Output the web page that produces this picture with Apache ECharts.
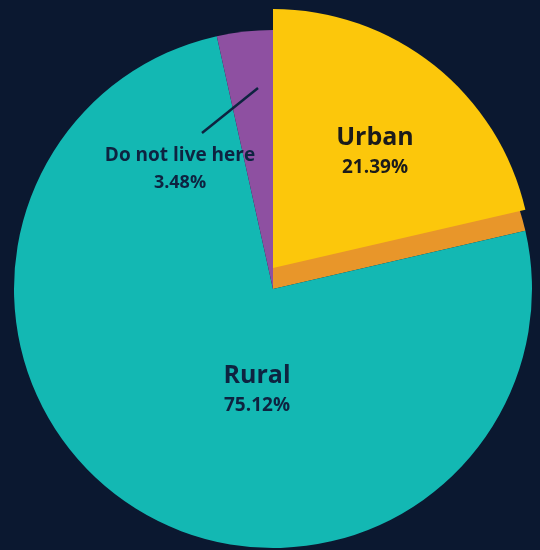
<!DOCTYPE html>
<html>
<head>
<meta charset="utf-8">
<script src="https://cdn.jsdelivr.net/npm/echarts@6/dist/echarts.min.js"></script>
<style>
html,body{margin:0;padding:0;background:#0b1830;}
#main{width:540px;height:550px;}
</style>
</head>
<body>
<div id="main"></div>
<script>
const categories = ['Urban', 'Rural', 'Do not live here'];
const values = [21.39, 75.12, 3.48];
const percentLabels = ['21.39%', '75.12%', '3.48%'];

const baseColors = ['#e8962a', '#13b8b3', '#8e50a1'];
const topColors = ['#fcc70b', 'rgba(0,0,0,0)', 'rgba(0,0,0,0)'];

const chart = echarts.init(document.getElementById('main'));

const FONT = '"Open Sans", Lato, sans-serif';
const rich = {
  n: { fontFamily: FONT, fontWeight: 'bold', fontSize: 25, lineHeight: 34, color: '#0e2340' },
  p: { fontFamily: FONT, fontWeight: 'bold', fontSize: 19, lineHeight: 26, color: '#0e2340' },
  ns: { fontFamily: FONT, fontWeight: 'bold', fontSize: 19, lineHeight: 28, color: '#0e2340' },
  ps: { fontFamily: FONT, fontWeight: 'bold', fontSize: 18, lineHeight: 26, color: '#0e2340' },
  nu: { fontFamily: FONT, fontWeight: 'bold', fontSize: 25, lineHeight: 34, color: '#1b1b1b' },
  pu: { fontFamily: FONT, fontWeight: 'bold', fontSize: 19, lineHeight: 26, color: '#1b1b1b' }
};

const baseData = categories.map((c, i) => ({
  name: c,
  value: values[i],
  itemStyle: { color: baseColors[i] },
  label: { show: i !== 0 }
}));

const topData = categories.map((c, i) => ({
  name: c,
  value: values[i],
  itemStyle: { color: topColors[i] },
  label: { show: i === 0 }
}));

chart.setOption({
  backgroundColor: '#0b1830',
  animation: false,
  graphic: [
    {
      type: 'line',
      z: 100,
      silent: true,
      shape: { x1: 258, y1: 88, x2: 202, y2: 133 },
      style: { stroke: '#0e2340', lineWidth: 2.5 }
    }
  ],
  series: [
    {
      type: 'pie',
      center: [273, 289],
      radius: [0, 259],
      startAngle: 90,
      clockwise: true,
      silent: true,
      data: baseData,
      label: {
        position: 'inside',
        formatter: p => p.dataIndex === 2
          ? '{ns|' + p.name + '}\n{ps|' + percentLabels[p.dataIndex] + '}'
          : '{n|' + p.name + '}\n{p|' + percentLabels[p.dataIndex] + '}',
        rich: rich,
        align: 'center'
      },
      labelLine: { show: false },
      labelLayout: p => {
        if (p.dataIndex === 1) {
          return { x: 257, y: 389, align: 'center', verticalAlign: 'middle' };
        }
        if (p.dataIndex === 2) {
          return { x: 180, y: 169, align: 'center', verticalAlign: 'middle' };
        }
        return {};
      }
    },
    {
      type: 'pie',
      center: [273, 268],
      radius: [0, 259],
      startAngle: 90,
      clockwise: true,
      silent: true,
      data: topData,
      label: {
        position: 'inside',
        formatter: p => '{nu|' + p.name + '}\n{pu|' + percentLabels[p.dataIndex] + '}',
        rich: rich,
        align: 'center'
      },
      labelLine: { show: false },
      labelLayout: p => ({ x: 375, y: 151, align: 'center', verticalAlign: 'middle' })
    }
  ]
});
</script>
</body>
</html>
